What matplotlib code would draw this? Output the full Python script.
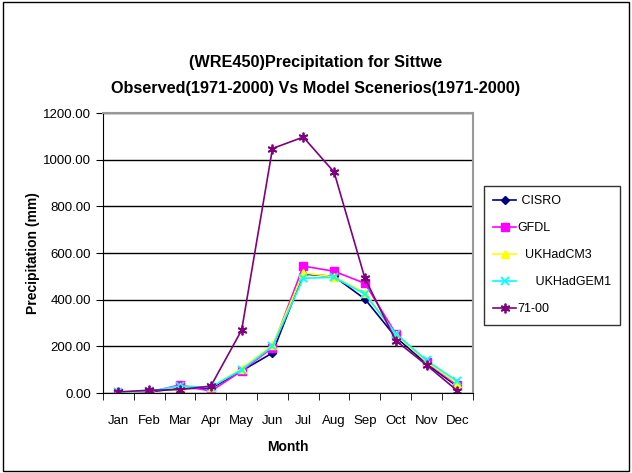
import matplotlib.pyplot as plt
from matplotlib.patches import Rectangle

plt.rcParams['font.family'] = ['Liberation Sans', 'DejaVu Sans']

months = ['Jan', 'Feb', 'Mar', 'Apr', 'May', 'Jun', 'Jul', 'Aug', 'Sep', 'Oct', 'Nov', 'Dec']
cisro = [3, 5, 20, 20, 95, 172, 510, 500, 403, 240, 125, 28]
gfdl = [2, 4, 35, 8, 95, 195, 544, 522, 470, 255, 133, 33]
ukhadcm3 = [3, 8, 28, 25, 105, 205, 515, 498, 430, 250, 135, 40]
ukhadgem1 = [4, 8, 30, 25, 100, 200, 492, 496, 424, 255, 140, 50]
obs = [5, 12, 15, 30, 270, 1048, 1097, 947, 492, 225, 120, 10]

fig = plt.figure(figsize=(6.32, 4.73), dpi=100)
ax = fig.add_axes([0.163, 0.169, 0.585, 0.592])

x = range(len(months))
ax.plot(x, cisro, color='#000080', marker='D', ms=4, lw=1.2, label=' CISRO')
ax.plot(x, gfdl, color='#ff00ff', marker='s', ms=6, lw=1.2, label='GFDL')
ax.plot(x, ukhadcm3, color='#ffff00', marker='^', ms=6, lw=1.2, label='  UKHadCM3')
ax.plot(x, ukhadgem1, color='#00ffff', marker='x', ms=6, mew=1.3, lw=1.2, label='     UKHadGEM1')
ax.plot(x, obs, color='#800080', marker=(6, 2, 0), ms=7, mew=1.3, lw=1.2, label='71-00')

ax.set_xlim(-0.5, 11.5)
ax.set_ylim(0, 1200)
ax.set_yticks(range(0, 1201, 200))
ax.set_yticklabels([f'{v:.2f}' for v in range(0, 1201, 200)], fontsize=9.5)
ax.set_xticks(list(x))
ax.set_xticklabels(months, fontsize=9.5)
ax.set_xticks([i + 0.5 for i in range(-1, 12)], minor=True)
ax.tick_params(axis='x', which='major', length=0, pad=16)
ax.tick_params(axis='x', which='minor', length=5, direction='out')
ax.tick_params(axis='y', length=5, direction='out')
ax.yaxis.grid(True, color='black', lw=1)
ax.set_axisbelow(True)
for side in ['top', 'right']:
    ax.spines[side].set_color('#999999')
    ax.spines[side].set_linewidth(1.5)
for side in ['left', 'bottom']:
    ax.spines[side].set_color('black')

ax.set_xlabel('Month', fontsize=10, fontweight='bold', labelpad=9)
ax.set_ylabel('Precipitation (mm)', fontsize=10, fontweight='bold', labelpad=2)
fig.text(0.5, 1 - 62 / 473, '(WRE450)Precipitation for Sittwe', ha='center', va='center',
         fontsize=11.7, fontweight='bold')
fig.text(0.5, 1 - 88 / 473, 'Observed(1971-2000) Vs Model Scenerios(1971-2000)', ha='center',
         va='center', fontsize=11.7, fontweight='bold')

leg = fig.legend(loc='upper left', bbox_to_anchor=(484 / 632, 1 - 186 / 473), fontsize=9,
                 frameon=True, fancybox=False, edgecolor='black', handlelength=1.8,
                 labelspacing=1.2, borderpad=0.75, borderaxespad=0, handletextpad=0.15)
leg.get_frame().set_linewidth(1)

fig.patches.append(Rectangle((0.004, 0.004), 0.992, 0.992, transform=fig.transFigure,
                             fill=False, edgecolor='black', lw=1))

fig.savefig('out.png', dpi=100)
